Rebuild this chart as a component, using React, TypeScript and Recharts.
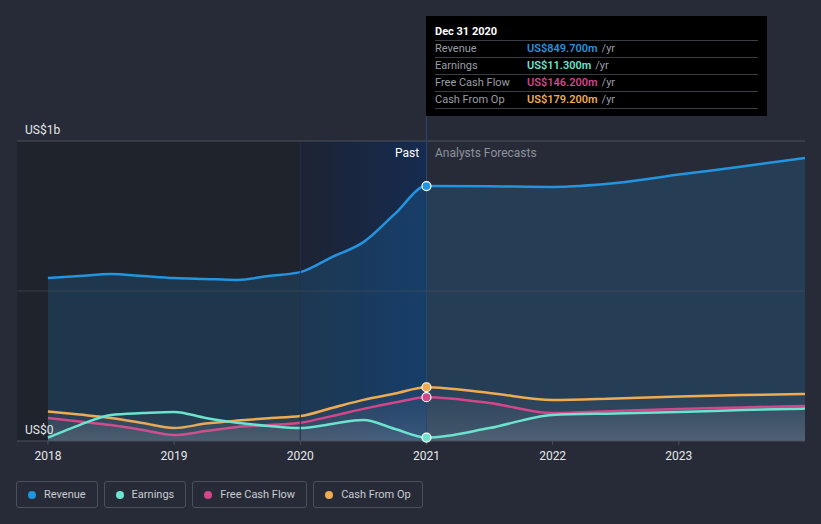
import React from "react";
import {
  ComposedChart,
  Area,
  XAxis,
  YAxis,
  ReferenceArea,
  ReferenceLine,
} from "recharts";

// x positions in fractional years
const periods = [
  2018, 2018.25, 2018.5, 2018.75, 2019, 2019.25, 2019.5, 2019.75, 2020, 2020.25,
  2020.5, 2020.75, 2021, 2021.5, 2022, 2022.5, 2023, 2023.5, 2024,
];
// US$m
const revenue = [
  543, 550, 557, 550, 543, 540, 537, 550, 563, 613, 663, 757, 849.7, 849, 847,
  860, 888, 915, 943,
];
const earnings = [
  11, 53, 87, 93, 97, 77, 61, 50, 43, 57, 70, 40, 11.3, 43, 87, 92, 97, 103, 108,
];
const freeCashFlow = [
  77, 65, 53, 37, 20, 33, 47, 53, 61, 83, 107, 128, 146.2, 127, 93, 100, 107,
  112, 117,
];
const cashFromOp = [
  98, 88, 77, 60, 43, 58, 68, 76, 83, 110, 137, 158, 179.2, 160, 137, 142, 148,
  153, 157,
];
const xTicks = [2018, 2019, 2020, 2021, 2022, 2023];

const tooltipRows = [
  { label: "Revenue", value: "US$849.700m", color: "#2394df" },
  { label: "Earnings", value: "US$11.300m", color: "#6be3cf" },
  { label: "Free Cash Flow", value: "US$146.200m", color: "#d1478a" },
  { label: "Cash From Op", value: "US$179.200m", color: "#eeab52" },
];

const data = periods.map((p, i) => ({
  x: p,
  revenue: revenue[i],
  earnings: earnings[i],
  fcf: freeCashFlow[i],
  cfo: cashFromOp[i],
}));

const FONT = "Roboto, 'Noto Sans', sans-serif";
const NOW = 2021;

const makeDot = (color: string) => (props: any) => {
  const { cx, cy, payload, index } = props;
  if (payload.x !== NOW) return <g key={index} />;
  return (
    <circle key={index} cx={cx} cy={cy} r={4.5} fill={color} stroke="#fff" strokeWidth={1.2} />
  );
};

export default function App() {
  return (
    <div
      style={{
        position: "fixed",
        left: 0,
        top: 0,
        width: 821,
        height: 524,
        background: "#262b37",
        fontFamily: FONT,
        overflow: "hidden",
      }}
    >
      <ComposedChart
        width={821}
        height={524}
        data={data}
        margin={{ top: 141, right: 16, bottom: 53, left: 17 }}
      >
        <defs>
          <linearGradient id="pastGrad" x1="0" y1="0" x2="1" y2="0">
            <stop offset="0%" stopColor="#1d2333" stopOpacity={1} />
            <stop offset="100%" stopColor="#152b50" stopOpacity={1} />
          </linearGradient>
          <linearGradient id="lowGrad" x1="0" y1="0" x2="0" y2="1">
            <stop offset="0%" stopColor="#8a90a0" stopOpacity={0.08} />
            <stop offset="100%" stopColor="#a0a6b4" stopOpacity={0.22} />
          </linearGradient>
        </defs>
        <ReferenceArea x1={2017.755} x2={2020} y1={0} y2={1000} fill="#1f232c" fillOpacity={1} stroke="none" />
        <ReferenceArea x1={2020} x2={2021} y1={0} y2={1000} fill="url(#pastGrad)" fillOpacity={1} stroke="none" />
        <ReferenceLine x={2020} stroke="#22304a" />
        <XAxis
          dataKey="x"
          type="number"
          domain={[2017.755, 2024]}
          ticks={xTicks}
          tick={{ fill: "#e6e8eb", fontSize: 12, fontFamily: FONT }}
          tickLine={{ stroke: "#4a505c" }}
          axisLine={{ stroke: "#4a505c" }}
          tickSize={4}
          tickMargin={6}
          height={30}
          allowDataOverflow
        />
        <YAxis domain={[0, 1000]} hide />
        <Area
          type="monotone"
          dataKey="revenue"
          stroke="#2394df"
          strokeWidth={2.5}
          fill="#2394df"
          fillOpacity={0.18}
          dot={makeDot("#2394df")}
          activeDot={false}
          isAnimationActive={false}
        />
        <ReferenceLine y={500} stroke="#4a505c" strokeOpacity={0.6} />
        <ReferenceLine y={1000} stroke="#4a505c" />
        <Area
          type="monotone"
          dataKey="cfo"
          stroke="#eeab52"
          strokeWidth={2.5}
          fill="url(#lowGrad)"
          dot={makeDot("#eeab52")}
          activeDot={false}
          isAnimationActive={false}
        />
        <Area
          type="monotone"
          dataKey="fcf"
          stroke="#d1478a"
          strokeWidth={2.5}
          fill="url(#lowGrad)"
          dot={makeDot("#d1478a")}
          activeDot={false}
          isAnimationActive={false}
        />
        <Area
          type="monotone"
          dataKey="earnings"
          stroke="#6be3cf"
          strokeWidth={2.5}
          fill="url(#lowGrad)"
          dot={makeDot("#6be3cf")}
          activeDot={false}
          isAnimationActive={false}
        />
        <ReferenceLine x={NOW} stroke="#2a4670" />
      </ComposedChart>

      {/* cursor line up to the tooltip */}
      <div style={{ position: "absolute", left: 426, top: 116, width: 1, height: 26, background: "#2a4670" }} />

      <div style={{ position: "absolute", left: 25, top: 123, fontSize: 12, color: "#e6e8eb" }}>US$1b</div>
      <div style={{ position: "absolute", left: 25, top: 423, fontSize: 12, color: "#e6e8eb" }}>US$0</div>

      <div style={{ position: "absolute", left: 395, top: 146, width: 24, textAlign: "right", fontSize: 12, color: "#ffffff" }}>
        Past
      </div>
      <div style={{ position: "absolute", left: 435, top: 146, fontSize: 12, color: "#8d929c", whiteSpace: "nowrap" }}>
        Analysts Forecasts
      </div>

      <div
        style={{
          position: "absolute",
          left: 426,
          top: 16,
          width: 341,
          height: 100,
          background: "#000",
          boxSizing: "border-box",
          padding: "8px 9px 0 9px",
        }}
      >
        <div style={{ color: "#fff", fontWeight: 700, fontSize: 11, height: 16, lineHeight: "15px" }}>
          Dec 31 2020
        </div>
        {tooltipRows.map((r) => (
          <div
            key={r.label}
            style={{
              display: "flex",
              borderTop: "1px solid #3a3d44",
              height: 17,
              boxSizing: "border-box",
              lineHeight: "16px",
              fontSize: 11,
            }}
          >
            <span style={{ width: 92, color: "#9a9ea6" }}>{r.label}</span>
            <span style={{ color: r.color, fontWeight: 600 }}>{r.value}</span>
            <span style={{ color: "#9a9ea6", marginLeft: 4 }}>/yr</span>
          </div>
        ))}
        <div style={{ borderTop: "1px solid #3a3d44" }} />
      </div>

      <div style={{ position: "absolute", left: 16, top: 481, display: "flex", gap: 6 }}>
        {tooltipRows.map((r) => (
          <div
            key={r.label}
            style={{
              display: "flex",
              alignItems: "center",
              height: 27,
              border: "1px solid #4a505c",
              borderRadius: 3,
              padding: "0 11px 0 11px",
              color: "#c9ccd1",
              fontSize: 11,
              boxSizing: "border-box",
            }}
          >
            <span style={{ width: 8, height: 8, borderRadius: 4, background: r.color, marginRight: 8 }} />
            {r.label}
          </div>
        ))}
      </div>
    </div>
  );
}
